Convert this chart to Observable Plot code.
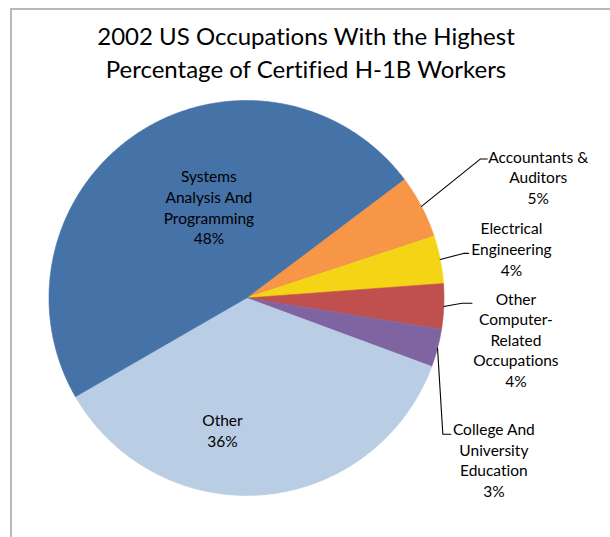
<!DOCTYPE html>
<html>
<head>
<meta charset="utf-8">
<script src="https://cdn.jsdelivr.net/npm/d3@7"></script>
<script src="https://cdn.jsdelivr.net/npm/@observablehq/plot@0.6"></script>
<style>
  html, body { margin: 0; padding: 0; background: #fff; }
  #wrap { position: relative; width: 610px; height: 537px; overflow: hidden; }
  #frame { position: absolute; left: 10px; top: 8px; width: 700px; height: 700px;
           border-left: 2px solid #b8b8b8; border-top: 2px solid #b8b8b8; box-sizing: border-box; pointer-events: none; }
  #title { position: relative; height: 100px; box-sizing: border-box; padding-top: 19px;
           width: 612px; text-align: center; font-family: Lato, "Open Sans", sans-serif;
           font-size: 24px; line-height: 33px; color: #000; font-variant-ligatures: none; }
  #chart svg { display: block; font-variant-ligatures: none; }
</style>
</head>
<body>
<div id="wrap">
  <div id="frame"></div>
  <div id="title">2002 US Occupations With the Highest<br>Percentage of Certified H-1B Workers</div>
  <div id="chart"></div>
</div>
<script>
// ---- data ----
const categories = [
  "Accountants & Auditors",
  "Electrical Engineering",
  "Other Computer-Related Occupations",
  "College And University Education",
  "Other",
  "Systems Analysis And Programming"
];
const shares = [5.2, 3.9, 3.7, 3.1, 36.0, 48.0];
const labelLines = [
  "Accountants &\nAuditors",
  "Electrical\nEngineering",
  "Other\nComputer-\nRelated\nOccupations",
  "College And\nUniversity\nEducation",
  "Other",
  "Systems\nAnalysis And\nProgramming"
];
const colors = ["#F79646", "#F3D515", "#C0504D", "#8064A2", "#B9CDE5", "#4572A7"];

// ---- layout (not data) ----
const cx = 246, cy = 197.5, R = 197.5;
const startDeg = 53;
// label centre in polar terms (degrees clockwise from 12 o'clock, radius factor)
const labelPolar = [[67.4, 1.6], [79.4, 1.365], [98.7, 1.38], [123.1, 1.495], [190.3, 0.68], [337.6, 0.5]];
// leader elbow / end offsets from label centre, in px (null = no leader)
const leaderOffsets = [
  [[-58, -17.5], [-51, -17.5]],
  [[-48, 5], [-43, 5]],
  [[-54, -36], [-44, -36]],
  [[-51, -25], [-43, -25]],
  null, null
];

const rad = d => d * Math.PI / 180;
const pie = d3.pie().sort(null).value(d => d)
  .startAngle(rad(startDeg)).endAngle(rad(startDeg) + 2 * Math.PI)(shares);

// slice outlines
const slicePts = [];
pie.forEach((p, i) => {
  const cat = categories[i];
  slicePts.push({cat, x: 0, y: 0});
  const n = Math.max(2, Math.ceil((p.endAngle - p.startAngle) / rad(0.5)));
  for (let k = 0; k <= n; k++) {
    const a = p.startAngle + (p.endAngle - p.startAngle) * k / n;
    slicePts.push({cat, x: Math.sin(a), y: Math.cos(a)});
  }
  slicePts.push({cat, x: 0, y: 0});
});

// labels
const labels = pie.map((p, i) => {
  const [deg, rf] = labelPolar[i];
  return {
    cat: categories[i],
    x: rf * Math.sin(rad(deg)),
    y: rf * Math.cos(rad(deg)),
    text: labelLines[i] + "\n" + Math.round(shares[i]) + "%"
  };
});

// leaders
const leaderPts = [];
pie.forEach((p, i) => {
  if (!leaderOffsets[i]) return;
  const mid = (p.startAngle + p.endAngle) / 2;
  leaderPts.push({cat: categories[i], x: Math.sin(mid), y: Math.cos(mid)});
  leaderOffsets[i].forEach(([dx, dy]) => {
    leaderPts.push({cat: categories[i], x: labels[i].x + dx / R, y: labels[i].y - dy / R});
  });
});

const chart = Plot.plot({
  width: 610,
  height: 437,
  margin: 0,
  x: {domain: [-1, 1], range: [cx - R, cx + R], axis: null},
  y: {domain: [-1, 1], range: [cy + R, cy - R], axis: null},
  color: {domain: categories, range: colors},
  style: {fontFamily: "Lato, 'Open Sans', sans-serif", background: "transparent", overflow: "visible"},
  marks: [
    Plot.line(slicePts, {x: "x", y: "y", z: "cat", fill: "cat", stroke: "cat", strokeWidth: 0.6, curve: "linear"}),
    Plot.line(leaderPts, {x: "x", y: "y", z: "cat", stroke: "#000", strokeWidth: 1.1}),
    Plot.text(labels, {x: "x", y: "y", text: "text", fontSize: 15.5, lineHeight: 1.33, lineAnchor: "middle", fill: "#000"})
  ]
});
document.getElementById("chart").appendChild(chart);
</script>
</body>
</html>
